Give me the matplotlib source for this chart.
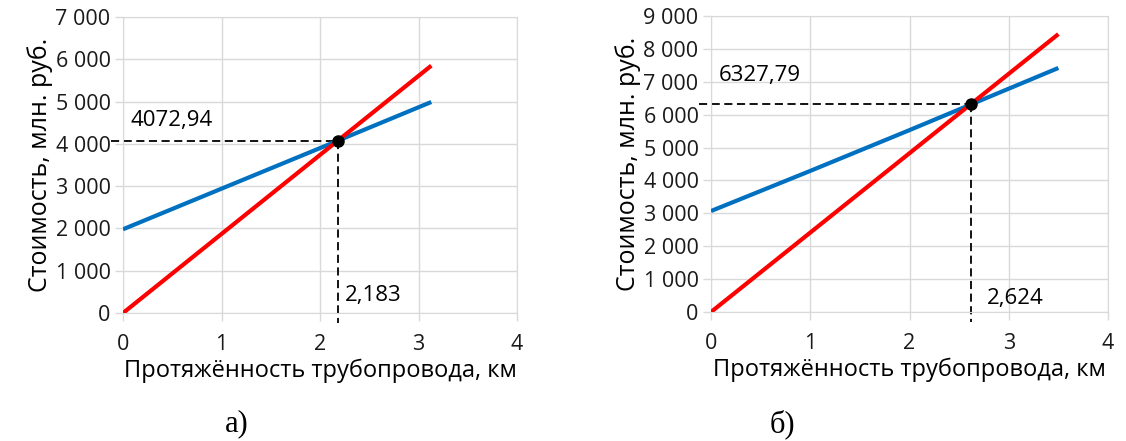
import matplotlib
matplotlib.use('Agg')
import matplotlib.pyplot as plt
from matplotlib.ticker import FuncFormatter

plt.rcParams['font.family'] = ['Open Sans', 'DejaVu Sans']

# данные, снятые с графика
# а)
a_x_blue = [0, 1, 2, 3.13]
a_y_blue = [1980, 2940, 3900, 4990]
a_x_red = [0, 3.13]
a_y_red = [0, 5850]
a_cross = (2.183, 4072.94)
a_cross_labels = ['4072,94', '2,183']

# б)
b_x_blue = [0, 1, 2, 3, 3.5]
b_y_blue = [3070, 4290, 5530, 6790, 7420]
b_x_red = [0, 3.5]
b_y_red = [0, 8450]
b_cross = (2.624, 6327.79)
b_cross_labels = ['6327,79', '2,624']

panel_captions = ['а)', 'б)']
ylabel = 'Стоимость, млн. руб.'
xlabel = 'Протяжённость трубопровода, км'

fig = plt.figure(figsize=(11.26, 4.41), dpi=100)
ax_a = fig.add_axes([123/1126, 1-313/441, 394/1126, 296/441])
ax_b = fig.add_axes([711/1126, 1-312/441, 397/1126, 296/441])

def thousands(v, pos):
    return f'{int(v):,}'.replace(',', ' ')

def draw(ax, xb, yb, xr, yr, cross, labels, ymax, ystep, lab_pos):
    ax.plot(xb, yb, color='#0070C0', lw=3, solid_capstyle='butt', zorder=3)
    ax.plot(xr, yr, color='#FF0000', lw=3, solid_capstyle='butt', zorder=3)
    cx, cy = cross
    ax.plot([-0.12, cx], [cy, cy], color='black', lw=1.3, ls=(0, (4.5, 2.5)), clip_on=False, zorder=2)
    ax.plot([cx, cx], [cy, -ymax*0.035], color='black', lw=1.3, ls=(0, (4.5, 2.5)), clip_on=False, zorder=2)
    ax.plot([cx], [cy], 'o', color='black', ms=8, zorder=4)
    ax.text(lab_pos[0][0], lab_pos[0][1], labels[0], fontsize=16, ha='left', va='center')
    ax.text(lab_pos[1][0], lab_pos[1][1], labels[1], fontsize=16, ha='left', va='center')
    ax.set_xlim(0, 4)
    ax.set_ylim(0, ymax)
    ax.set_xticks(range(0, 5))
    ax.set_yticks(range(0, ymax + 1, ystep))
    ax.yaxis.set_major_formatter(FuncFormatter(thousands))
    ax.grid(True, color='#d9d9d9', lw=1)
    for s in ax.spines.values():
        s.set_color('#d9d9d9')
    ax.tick_params(colors='#d9d9d9', labelcolor='#1a1a1a', labelsize=15.5, length=6, width=1, pad=3)
    ax.tick_params(axis='x', pad=9)
    ax.set_axisbelow(True)
    ax.set_xlabel(xlabel, fontsize=17, va='center')
    ax.xaxis.set_label_coords(0.5, -58/296)
    ax.set_ylabel(ylabel, fontsize=18, labelpad=2)

draw(ax_a, a_x_blue, a_y_blue, a_x_red, a_y_red, a_cross, a_cross_labels, 7000, 1000,
     [(0.08, 4550), (2.25, 420)])
draw(ax_b, b_x_blue, b_y_blue, b_x_red, b_y_red, b_cross, b_cross_labels, 9000, 1000,
     [(0.08, 7200), (2.78, 420)])

fig.text(237/1126, 1-424/441, panel_captions[0], fontsize=22, family='Liberation Serif', ha='center', va='center')
fig.text(782/1126, 1-424/441, panel_captions[1], fontsize=22, family='Liberation Serif', ha='center', va='center')

fig.savefig('out.png', dpi=100, facecolor='white')
